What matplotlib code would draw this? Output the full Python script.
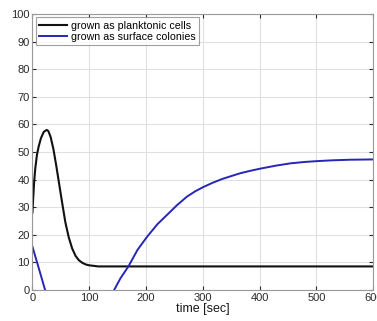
import matplotlib
matplotlib.use("Agg")
import matplotlib.pyplot as plt

plt.rcParams['font.family'] = ['Liberation Sans', 'DejaVu Sans']

# planktonic cells
t_plank = [0, 1, 3, 5, 8, 11, 15, 20, 25, 28, 32, 37, 42, 47, 52, 58, 64, 70, 76, 82, 88, 94,
           100, 108, 116, 130, 150, 200, 300, 400, 500, 600]
v_plank = [28, 32, 39, 44, 49, 52, 55, 57.3, 58, 57.6, 55.5, 51, 45, 38.5, 32, 24.5, 19, 15, 12.3,
           10.7, 9.8, 9.2, 8.9, 8.7, 8.5, 8.5, 8.5, 8.5, 8.5, 8.5, 8.5, 8.5]

# surface colonies, first drop
t_surf_a = [0, 10, 20, 26]
v_surf_a = [15.7, 8.7, 1.6, -2.6]

# surface colonies, regrowth
t_surf_b = [140, 144, 155, 169, 185, 202, 220, 237, 255, 272, 287, 302, 318, 334, 349, 366, 384,
            402, 430, 455, 480, 502, 530, 560, 600]
v_surf_b = [-2, 0, 4.2, 8.5, 14.5, 19.3, 23.8, 27.2, 30.8, 33.8, 35.8, 37.4, 38.9, 40.2, 41.2,
            42.3, 43.2, 44, 45.1, 45.9, 46.4, 46.7, 47, 47.2, 47.3]

labels = ['grown as planktonic cells', 'grown as surface colonies']
xticks = [0, 100, 200, 300, 400, 500, 600]
yticks = list(range(0, 101, 10))

fig = plt.figure(figsize=(3.77, 3.21), dpi=100)
ax = fig.add_axes([0.086, 0.097, 0.904, 0.859])

blue = (0.15, 0.15, 0.72)
ax.plot(t_plank, v_plank, color='#111111', lw=1.5, label=labels[0])
ax.plot(t_surf_a, v_surf_a, color=blue, lw=1.4, label=labels[1])
ax.plot(t_surf_b, v_surf_b, color=blue, lw=1.4)

ax.set_xlim(0, 600)
ax.set_ylim(0, 100)
ax.set_xticks(xticks)
ax.set_yticks(yticks)
ax.grid(True, color='#e0e0e0', lw=0.8)
ax.set_axisbelow(True)
ax.tick_params(direction='in', length=3, labelsize=8, colors='#2a2a2a', top=True, right=True,
               pad=2)
for s in ax.spines.values():
    s.set_color('#999999')
    s.set_linewidth(0.8)

ax.set_xlabel('time [sec]', fontsize=9, color='#1a1a1a', labelpad=0)

leg = ax.legend(loc='upper left', fontsize=7.7, frameon=True, fancybox=False,
                handlelength=2.6, handletextpad=0.4, borderpad=0.3, labelspacing=0.15,
                borderaxespad=0.3)
leg.get_frame().set_edgecolor('#888888')
leg.get_frame().set_linewidth(0.8)

fig.savefig('out.png', dpi=100)
